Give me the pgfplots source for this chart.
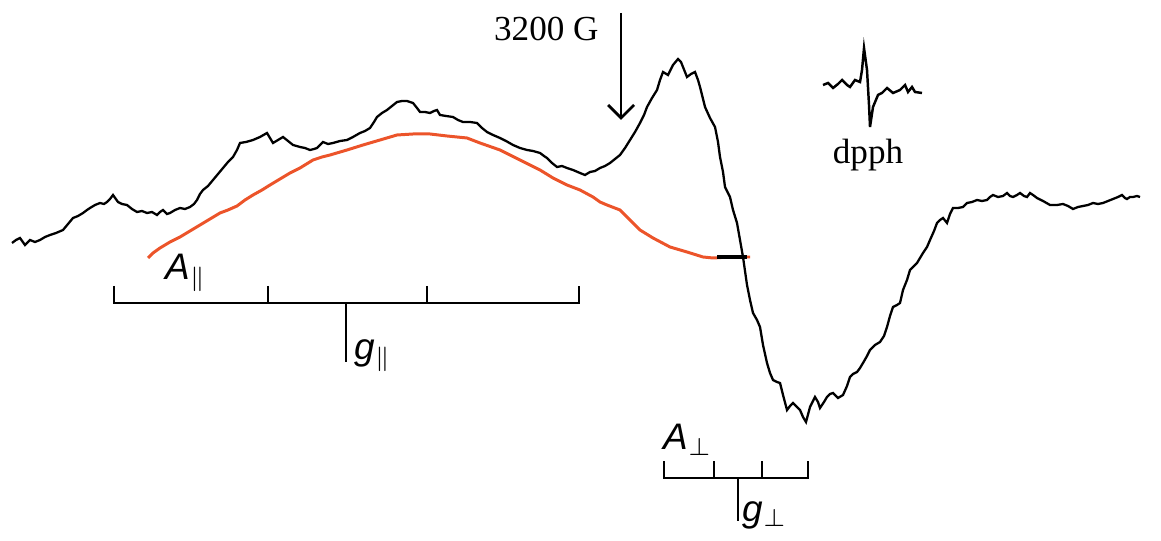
\documentclass[border=0pt]{standalone}
\usepackage{fontspec}
\setmainfont{Liberation Serif}
\newfontfamily\labfont{Liberation Sans}
\usepackage{pgfplots}
\pgfplotsset{compat=1.18}
\definecolor{fitred}{RGB}{236,84,42}
\begin{document}
\begin{tikzpicture}
\begin{axis}[
  scale only axis, width=11.61cm, height=5.38cm,
  xmin=0, xmax=1161, ymin=0, ymax=538, y dir=reverse,
  axis lines=none, clip=false,
]
% bounding frame (invisible)
\addplot[draw=none] coordinates {(0,0) (1161,538)};
% main EPR trace
\addplot[black, line width=0.65pt] coordinates {
(12,243) (16,240) (20,238) (25,245) (30,240) (35,242) (40,240) (45,237) (50,235) (56,233) (63,230)
(68,224) (73,218) (78,216) (83,213) (87,210) (90,208) (95,205) (100,203) (104,204) (107,202) (110,199)
(113,195) (118,202) (122,204) (127,205) (132,209) (137,212) (142,211) (147,213) (152,212) (157,215)
(160,212) (163,210) (167,214) (170,213) (175,210) (180,208) (185,209) (190,207) (194,204) (197,200)
(200,194) (203,190) (208,186) (213,180) (218,174) (223,168) (228,162) (233,157) (237,150) (240,143)
(246,142) (253,140) (260,137) (267,133) (270,138) (273,143) (278,140) (283,137) (288,141) (293,145)
(300,147) (305,148) (310,150) (314,149) (317,148) (320,145) (323,142) (328,144) (333,143) (340,141)
(347,140) (353,137) (360,133) (365,131) (370,128) (374,122) (377,117) (382,113) (387,110) (392,106)
(397,102) (402,101) (407,101) (413,103) (417,108) (420,112) (425,112) (430,113) (434,111) (437,110)
(440,115) (446,116) (453,117) (458,120) (463,122) (470,122) (477,123) (482,128) (487,132) (493,135)
(500,138) (506,141) (513,145) (520,148) (527,150) (533,151) (540,153) (544,156) (547,158) (552,163)
(557,167) (562,166) (567,168) (573,170) (580,173) (585,175) (590,172) (595,171) (600,168) (605,166)
(610,163) (615,159) (620,155) (625,148) (630,140) (635,132) (640,123) (644,115) (647,107) (652,98)
(657,90) (660,80) (663,72) (668,75) (673,65) (678,59) (681,62) (683,67) (687,77) (691,74) (695,72)
(698,80) (700,87) (705,107) (710,118) (715,127) (718,142) (720,157) (723,172) (725,187) (730,197)
(733,210) (737,223) (740,240) (743,257) (747,285) (750,300) (753,313) (757,320) (760,327) (763,345)
(767,363) (770,373) (773,380) (777,382) (780,383) (783,395) (787,410) (790,406) (793,403) (797,407)
(800,410) (803,417) (806,422) (810,407) (815,397) (818,402) (820,408) (824,402) (827,397) (830,394)
(833,393) (838,398) (843,395) (847,386) (850,377) (853,374) (857,372) (860,368) (863,363) (867,356)
(870,350) (875,345) (880,342) (884,336) (887,327) (890,316) (893,307) (897,305) (900,303) (903,290)
(907,280) (910,270) (914,266) (917,263) (920,258) (923,253) (927,247) (930,240) (934,231) (937,223)
(940,220) (943,218) (947,223) (950,214) (953,208) (958,208) (963,207) (967,203) (972,202) (977,200)
(982,201) (987,200) (990,197) (993,195) (998,197) (1003,196) (1007,193) (1010,196) (1013,197) (1017,195)
(1020,193) (1024,196) (1027,197) (1030,193) (1033,195) (1037,198) (1043,201) (1050,205) (1057,205)
(1063,204) (1068,206) (1073,209) (1078,207) (1083,206) (1088,205) (1093,203) (1098,204) (1103,203)
(1108,201) (1113,199) (1118,197) (1122,195) (1125,198) (1127,199) (1130,197) (1133,197) (1137,196) (1140,197)
};
% red baseline/fit curve
\addplot[fitred, line width=0.85pt] coordinates {
(148,258) (153,253) (160,248) (170,242) (180,237) (190,231) (200,225) (210,219) (220,213) (228,210)
(237,206) (245,200) (253,195) (262,190) (270,185) (280,179) (290,173) (300,168) (313,160) (322,157)
(330,155) (347,150) (363,145) (380,140) (397,135) (413,134) (430,134) (447,136) (467,138) (480,143)
(500,150) (520,160) (540,170) (553,178) (567,185) (580,190) (593,197) (600,202) (607,205) (620,210)
(630,220) (640,230) (653,238) (670,247) (687,252) (703,257) (713,258) (730,257) (750,257)
};
% crossing marker
\addplot[black, line width=1.2pt] coordinates {(717,257) (747,257)};
% 3200 G arrow
\addplot[black, line width=0.8pt] coordinates {(621,13) (621,118)};
\addplot[black, line width=0.8pt] coordinates {(608,105) (621,118) (634,105)};
\node[anchor=east, font=\fontsize{10}{12}\selectfont] at (axis cs:611,29) {3200 G};
% dpph inset
\addplot[black, line width=0.7pt] coordinates {
(823,85) (828,83) (833,88) (838,84) (842,80) (847,85) (850,87) (855,80) (860,82) (862,70) (864,48)
(867,70) (869,105) (870,127) (873,107) (878,95) (882,93) (887,88) (893,93) (900,90) (905,85) (908,92)
(912,87) (915,92) (922,93)
};
\node[font=\fontsize{10}{12}\selectfont] at (axis cs:868,155) {dpph};
% A parallel stick diagram
\addplot[black, line width=0.75pt] coordinates {(114,286) (114,303) (579,303) (579,286)};
\addplot[black, line width=0.75pt] coordinates {(268,286) (268,303)};
\addplot[black, line width=0.75pt] coordinates {(427,286) (427,303)};
\addplot[black, line width=0.75pt] coordinates {(346,303) (346,362)};
\node[font=\fontsize{10.5}{12}\selectfont] at (axis cs:186,273) {{\labfont\itshape A}$_{\parallel}$};
\node[font=\fontsize{10.5}{12}\selectfont] at (axis cs:373,356) {{\labfont\itshape g}$_{\parallel}$};
% A perpendicular stick diagram
\addplot[black, line width=0.75pt] coordinates {(664,461) (664,478) (808,478) (808,461)};
\addplot[black, line width=0.75pt] coordinates {(714,461) (714,478)};
\addplot[black, line width=0.75pt] coordinates {(762,461) (762,478)};
\addplot[black, line width=0.75pt] coordinates {(738,478) (738,521)};
\node[font=\fontsize{10.5}{12}\selectfont] at (axis cs:688,440) {{\labfont\itshape A}$_{\perp}$};
\node[font=\fontsize{10.5}{12}\selectfont] at (axis cs:765,515) {{\labfont\itshape g}$_{\perp}$};
\end{axis}
\end{tikzpicture}
\end{document}
